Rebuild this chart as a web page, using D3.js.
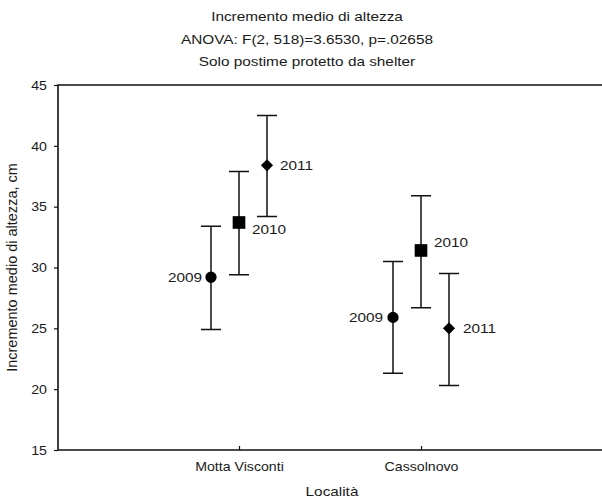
<!DOCTYPE html>
<html>
<head>
<meta charset="utf-8">
<script src="https://cdn.jsdelivr.net/npm/d3@7"></script>
<style>
  html, body { margin: 0; padding: 0; background: #ffffff; }
  svg { display: block; }
  text { font-family: "Liberation Sans", Arial, sans-serif; fill: #1a1a1a; }
</style>
</head>
<body>
<svg id="chart" width="602" height="500"></svg>
<script>
// Mean height increment (cm) per site and year, with confidence bounds
const sites = ["Motta Visconti", "Cassolnovo"];
const years = ["2009", "2010", "2011"];
const means = [
  [29.2, 33.7, 38.4],   // Motta Visconti
  [25.9, 31.4, 25.0]    // Cassolnovo
];
const upper = [
  [33.4, 37.9, 42.5],
  [30.5, 35.9, 29.5]
];
const lower = [
  [24.9, 29.4, 34.2],
  [21.3, 26.7, 20.3]
];
const yTicks = [15, 20, 25, 30, 35, 40, 45];
const titleLines = [
  "Incremento medio di altezza",
  "ANOVA: F(2, 518)=3.6530, p=.02658",
  "Solo postime protetto da shelter"
];
const xTitle = "Località";
const yTitle = "Incremento medio di altezza, cm";

const W = 602, H = 500;
const plot = { left: 58, top: 85, right: 603, bottom: 450 };
const STRETCH = 1.18; // glyphs are set a little wider than tall

const svg = d3.select("#chart");

const x = d3.scalePoint().domain(sites).range([plot.left - 1, plot.right]).padding(1);
const dx = d3.scalePoint().domain(years).range([-28, 28]);
const y = d3.scaleLinear().domain([15, 45]).range([plot.bottom, plot.top]);

// text helper: horizontally widened glyphs anchored at (px, py)
function label(g, str, px, py, size, anchor) {
  return g.append("text")
    .attr("transform", `translate(${px},${py}) scale(${STRETCH},1)`)
    .attr("text-anchor", anchor || "middle")
    .style("font-size", size + "px")
    .text(str);
}

// titles
const titleBase = [21, 43.5, 66];
titleLines.forEach((t, i) => label(svg, t, 307, titleBase[i], 13, "middle"));

// frame (open on the right)
svg.append("path")
  .attr("d", `M${W},${plot.top}H${plot.left}V${plot.bottom}H${W}`)
  .attr("fill", "none")
  .attr("stroke", "#111")
  .attr("stroke-width", 1.6);

// y axis
const yAxis = svg.append("g").attr("transform", `translate(${plot.left},0)`)
  .call(d3.axisLeft(y).tickValues(yTicks).tickSize(4).tickFormat(d3.format("d")));
yAxis.select(".domain").remove();
yAxis.selectAll(".tick line").attr("stroke", "#111").attr("stroke-width", 1.2);
yAxis.selectAll(".tick text").remove();
yAxis.selectAll(".tick").each(function(d) {
  label(d3.select(this), String(d), -11, 4.3, 12, "end");
});

// x axis (ticks point inward)
const xAxis = svg.append("g").attr("transform", `translate(0,${plot.bottom})`)
  .call(d3.axisBottom(x).tickSize(-4));
xAxis.select(".domain").remove();
xAxis.selectAll(".tick line").attr("stroke", "#111").attr("stroke-width", 1.2);
xAxis.selectAll(".tick text").remove();
xAxis.selectAll(".tick").each(function(d) {
  label(d3.select(this), d, 0, 21, 12, "middle");
});

// axis titles
label(svg, xTitle, (plot.left + 606) / 2, 496, 13, "middle");
svg.append("text")
  .attr("transform", `translate(17,${(plot.top + plot.bottom) / 2}) rotate(-90)`)
  .attr("text-anchor", "middle")
  .style("font-size", "14.5px")
  .text(yTitle);

// flatten to one record per site/year
const rows = [];
sites.forEach((s, i) => years.forEach((yr, j) => {
  rows.push({ site: s, year: yr, mean: means[i][j], hi: upper[i][j], lo: lower[i][j], si: i });
}));

const cx = d => x(d.site) + dx(d.year);

const pts = svg.append("g");

// whiskers
pts.selectAll("path.whisker").data(rows).join("path")
  .attr("class", "whisker")
  .attr("fill", "none")
  .attr("stroke", "#111")
  .attr("stroke-width", 1.5)
  .attr("d", d => {
    const c = cx(d), t = y(d.hi), b = y(d.lo);
    return `M${c - 10},${t}H${c + 10}M${c},${t}V${b}M${c - 10},${b}H${c + 10}`;
  });

// markers: circle 2009, square 2010, diamond 2011
const markerType = { "2009": d3.symbolCircle, "2010": d3.symbolSquare, "2011": d3.symbolSquare };
const markerSize = { "2009": 100, "2010": 160, "2011": 74 };
const markerRot = { "2009": 0, "2010": 0, "2011": 45 };
pts.selectAll("path.marker").data(rows).join("path")
  .attr("class", "marker")
  .attr("fill", "#000")
  .attr("transform", d => `translate(${cx(d)},${y(d.mean)}) rotate(${markerRot[d.year]})`)
  .attr("d", d => d3.symbol(markerType[d.year], markerSize[d.year])());

// year labels beside each marker
const nudge = {
  "2009": [[-9, 4.5, "end"], [-10, 4.5, "end"]],
  "2010": [[13, 11.5, "start"], [13, -3.5, "start"]],
  "2011": [[13, 4.5, "start"], [14, 4.5, "start"]]
};
rows.forEach(d => {
  const [ox, oy, anc] = nudge[d.year][d.si];
  label(pts, d.year, cx(d) + ox, y(d.mean) + oy, 13, anc);
});
</script>
</body>
</html>
